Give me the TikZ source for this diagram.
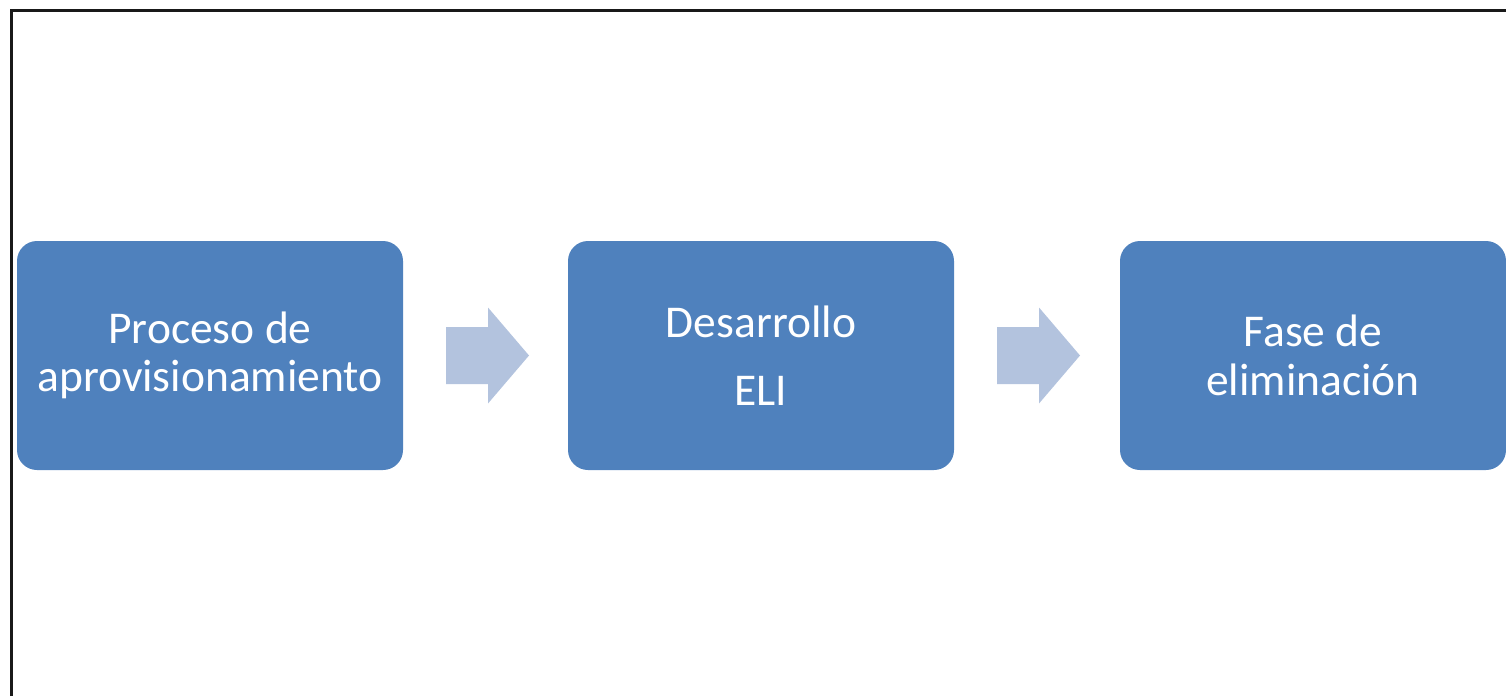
\documentclass[tikz,border=0pt]{standalone}
\usepackage{fontspec}
\setmainfont{Carlito}
\definecolor{boxblue}{HTML}{4F81BD}
\definecolor{arrowblue}{HTML}{B3C3DE}
\tikzset{
  stage/.style={fill=boxblue, draw=none, rounded corners=20pt, minimum width=386pt, minimum height=229pt,
    text=white, align=center, inner sep=0pt, font=\fontsize{45.5}{48.5}\selectfont},
  blockarrow/.style={fill=arrowblue, draw=none},
  frame/.style={draw=black!90, line width=3pt}
}
\begin{document}
\begin{tikzpicture}[x=1pt,y=-1pt]
\useasboundingbox (0,0) rectangle (1506,696);
\draw[frame] (11,696) -- (11,10) -- (1506,10);
\node[stage] (b1) at (210,355.5) {Proceso de\\aprovisionamiento};
\node[stage] (b2) at (761,355.5) {Desarrollo\\[20pt]ELI};
\node[stage] (b3) at (1313,355.5) {Fase de\\eliminación};
\coordinate (a1) at (446,355.5);
\coordinate (a2) at (997,355.5);
\foreach \a in {a1,a2}{
  \fill[blockarrow] ([shift={(0,-28.5)}]\a) -- ++(42,0) -- ++(0,-19.5) -- ++(41,48) -- ++(-41,48) -- ++(0,-19.5) -- ++(-42,0) -- cycle;
}
\end{tikzpicture}
\end{document}
